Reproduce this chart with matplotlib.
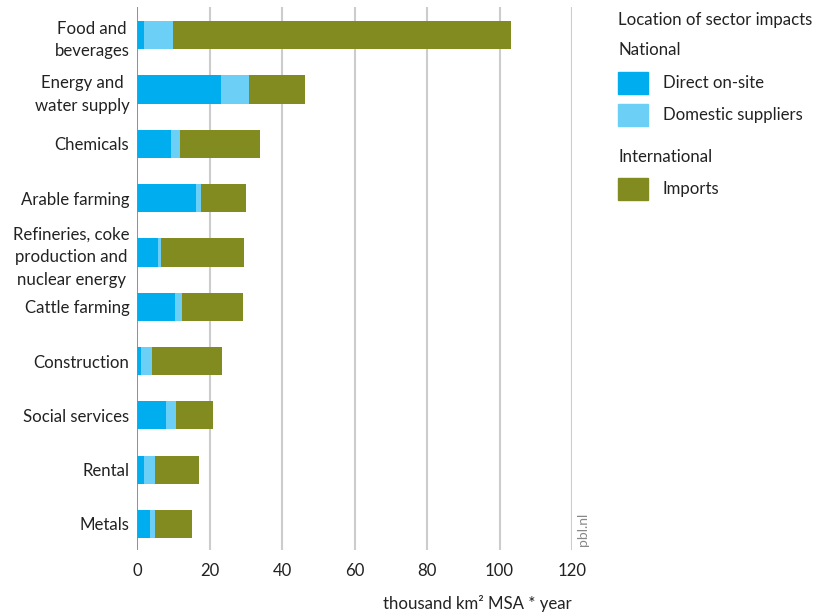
import numpy as np
import matplotlib

matplotlib.use("Agg")
import matplotlib.pyplot as plt
from matplotlib.patches import Rectangle

plt.rcParams["font.family"] = ["Lato", "DejaVu Sans"]

# data (thousand km2 MSA * year)
sectors = [
    "Food and\nbeverages",
    "Energy and\nwater supply",
    "Chemicals",
    "Arable farming",
    "Refineries, coke\nproduction and\nnuclear energy",
    "Cattle farming",
    "Construction",
    "Social services",
    "Rental",
    "Metals",
]
direct = [1.9, 23.2, 9.3, 16.3, 5.8, 10.5, 1.0, 7.9, 1.9, 3.5]
domestic = [8.0, 7.7, 2.5, 1.4, 0.8, 1.9, 3.1, 2.8, 3.0, 1.4]
imports = [93.4, 15.4, 22.1, 12.4, 22.9, 16.9, 19.4, 10.2, 12.1, 10.2]

xticks = [0, 20, 40, 60, 80, 100, 120]

c_direct = "#00aeef"
c_domestic = "#6bcff6"
c_imports = "#818b1f"
txt = "#222222"
fs = 12.1

fig = plt.figure(figsize=(8.18, 6.12), dpi=100)
ax = fig.add_axes([137 / 818, 1 - 550 / 612, 435 / 818, 543 / 612])

y = np.arange(len(sectors))
direct = np.array(direct)
domestic = np.array(domestic)
imports = np.array(imports)
h = 0.52
ax.barh(y, direct, height=h, color=c_direct, zorder=3)
ax.barh(y, domestic, left=direct, height=h, color=c_domestic, zorder=3)
ax.barh(y, imports, left=direct + domestic, height=h, color=c_imports, zorder=3)

ax.set_xlim(0, 120)
ax.set_ylim(9.48, -0.52)
ax.set_xticks(xticks)
ax.set_xticklabels([str(v) for v in xticks], fontsize=fs, color=txt)
ax.set_yticks(y)
ax.set_yticklabels(sectors, fontsize=fs, color=txt, multialignment="center",
                   linespacing=1.5)
ax.tick_params(axis="both", length=0)
ax.tick_params(axis="x", pad=9)
ax.tick_params(axis="y", pad=5.5)

ax.grid(axis="x", color="#cccccc", linewidth=1.5, zorder=0)
ax.axvline(0, color="#888888", linewidth=1.2, zorder=4)
for s in ax.spines.values():
    s.set_visible(False)

fig.text(477 / 818, 1 - 603 / 612, "thousand km² MSA * year", ha="center",
         va="center", fontsize=fs, color=txt)
fig.text(583 / 818, 1 - 529 / 612, "pbl.nl", rotation=90, ha="center",
         va="center", fontsize=10, color="#888888")

# legend
fig.text(618 / 818, 1 - 20 / 612, "Location of sector impacts", fontsize=fs,
         color=txt, va="center")
fig.text(618 / 818, 1 - 50 / 612, "National", fontsize=fs, color=txt, va="center")
fig.text(618 / 818, 1 - 157 / 612, "International", fontsize=fs, color=txt,
         va="center")
items = [(83, c_direct, "Direct on-site"), (115, c_domestic, "Domestic suppliers"),
         (189, c_imports, "Imports")]
for yc, col, lab in items:
    fig.patches.append(Rectangle((618 / 818, 1 - (yc + 11) / 612), 30 / 818,
                                 22 / 612, transform=fig.transFigure,
                                 color=col))
    fig.text(663 / 818, 1 - yc / 612, lab, fontsize=fs, color=txt, va="center")

fig.savefig("out.png", dpi=100)
